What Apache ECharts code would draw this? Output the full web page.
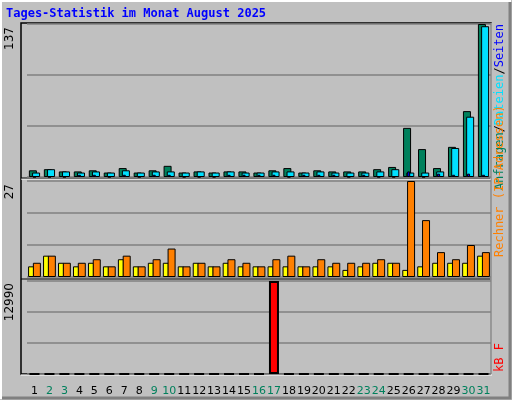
<!DOCTYPE html>
<html><head><meta charset="utf-8">
<script src="https://cdn.jsdelivr.net/npm/echarts@6/dist/echarts.min.js"></script>
<style>html,body{margin:0;padding:0;background:#c0c0c0}#c{width:512px;height:400px}</style>
</head><body><div id="c"></div>
<script>
var days = ['1','2','3','4','5','6','7','8','9','10','11','12','13','14','15','16','17','18','19','20','21','22','23','24','25','26','27','28','29','30','31'];
var weekend = ['2','3','9','10','16','17','23','24','30','31'];
var hits  = [6,7,5,5,6,4,8,4,6,10,4,5,4,5,5,4,6,8,4,6,5,5,5,7,9,44,25,8,27,59,137];
var files = [4,7,5,4,5,4,6,4,5,5,4,5,4,5,4,4,5,5,4,5,4,4,4,5,7,4,4,5,26,54,135];
var pages = [0,0,0,2,2,0,2,0,2,2,0,0,0,2,2,2,2,0,2,2,2,0,2,0,0,5,0,3,2,3,2];
var visits = [3,6,4,3,4,3,5,3,4,4,3,4,3,4,3,3,3,3,3,3,3,2,3,4,4,2,3,4,4,4,6];
var sites  = [4,6,4,4,5,3,6,3,5,8,3,4,3,5,4,3,5,6,3,5,4,4,4,5,4,27,16,7,5,9,7];
var kbytes = [0,0,0,0,0,0,0,0,0,0,0,0,0,0,0,0,12990,0,0,0,0,0,0,0,0,0,0,0,0,0,0];
var maxTop = 137, maxMid = 27, maxBot = 12990;

var chart = echarts.init(document.getElementById('c'));
var L = 27, R = 21;
var grids = [
  {left:L, right:R, top:24, height:153},
  {left:L, right:R, top:181, height:96},
  {left:L, right:R, top:281, height:93}
];
function xa(i, show){
  return {type:'category', gridIndex:i, data:days, axisLine:{show:false}, axisTick:{show:false},
    axisLabel:{show:show, interval:0, fontFamily:'DejaVu Sans', fontSize:11, margin:12,
      formatter:function(v){return weekend.indexOf(v)>=0 ? '{w|'+v+'}' : '{n|'+v+'}';},
      rich:{w:{color:'#00805c',fontSize:11,fontFamily:'DejaVu Sans'},n:{color:'#000',fontSize:11,fontFamily:'DejaVu Sans'}}}};
}
function ya(i, max){
  return {type:'value', gridIndex:i, min:0, max:max, interval:max/3,
    axisLine:{show:false}, axisTick:{show:false}, axisLabel:{show:false},
    splitLine:{lineStyle:{color:'#808080', width:1.5}}};
}
function bar(name, data, xi, yi, color, w, gap){
  return {name:name, type:'bar', xAxisIndex:xi, yAxisIndex:yi, data:data, barWidth:w, barGap:gap,
    itemStyle:{color:color, borderColor:'#000', borderWidth:1}, animation:false};
}
var ft = 'DejaVu Sans Mono';
var xs = [xa(0,false), xa(1,false), xa(2,true)];
var extraX = xa(0,false); xs.push(extraX);
var ys = [ya(0,maxTop), ya(1,maxMid), ya(2,maxBot)];
var extraY = ya(0,maxTop); extraY.splitLine = {show:false}; ys.push(extraY);
chart.setOption({
  backgroundColor:'#c0c0c0',
  animation:false,
  grid:grids,
  xAxis:xs,
  yAxis:ys,
  series:[
    bar('Anfragen', hits, 0, 0, '#00805c', 8, '-60%'),
    bar('Dateien', files, 0, 0, '#00e0ff', 8, '-60%'),
    bar('Seiten', pages, 3, 3, '#0000ff', 3, '0%'),
    bar('Besuche', visits, 1, 1, '#ffff00', 6, '-20%'),
    bar('Rechner', sites, 1, 1, '#ff8000', 8, '-20%'),
    {name:'kB F', type:'bar', xAxisIndex:2, yAxisIndex:2, data:kbytes, barWidth:10,
     itemStyle:{color:'#ff0000', borderColor:'#000', borderWidth:2}, animation:false}
  ],
  graphic:[
    {type:'rect', shape:{x:1,y:1,width:509,height:397}, style:{fill:'none', stroke:'#ffffff', lineWidth:2}},
    {type:'polyline', shape:{points:[[510,2],[510,398],[2,398]]}, style:{stroke:'#808080', lineWidth:3}},
    {type:'rect', shape:{x:21,y:23,width:470,height:351}, style:{fill:'none', stroke:'#000', lineWidth:1.5}},
    {type:'line', shape:{x1:21,y1:179,x2:491,y2:179}, style:{stroke:'#fff', lineWidth:1}},
    {type:'line', shape:{x1:21,y1:178,x2:491,y2:178}, style:{stroke:'#000', lineWidth:1}},
    {type:'line', shape:{x1:21,y1:279,x2:491,y2:279}, style:{stroke:'#000', lineWidth:1}},
    {type:'line', shape:{x1:491,y1:23,x2:491,y2:375}, style:{stroke:'#fff', lineWidth:1}},
    {type:'line', shape:{x1:21,y1:375,x2:492,y2:375}, style:{stroke:'#fff', lineWidth:1}},
    {type:'text', left:6, top:8, style:{text:'Tages-Statistik im Monat August 2025', fill:'#0000ff', font:'bold 12px '+ft}},
    {type:'text', x:10, y:27, rotation:Math.PI/2, style:{text:String(maxTop), fill:'#000', font:'12px DejaVu Sans', align:'right', verticalAlign:'middle'}},
    {type:'text', x:10, y:184, rotation:Math.PI/2, style:{text:String(maxMid), fill:'#000', font:'12px DejaVu Sans', align:'right', verticalAlign:'middle'}},
    {type:'text', x:10, y:283, rotation:Math.PI/2, style:{text:String(maxBot), fill:'#000', font:'12px DejaVu Sans', align:'right', verticalAlign:'middle'}},
    {type:'text', x:500, y:24, rotation:Math.PI/2, style:{
      text:'{a|Anfragen}{s|/}{d|Dateien}{s|/}{p|Seiten}', verticalAlign:'middle', align:'right', font:'12px '+ft,
      rich:{a:{fill:'#00805c',font:'12px '+ft},d:{fill:'#00e0ff',font:'12px '+ft},p:{fill:'#0000ff',font:'12px '+ft},s:{fill:'#000',font:'12px '+ft}}}},
    {type:'text', x:500, y:257, rotation:Math.PI/2, style:{text:'Rechner (IP-Adressen)', fill:'#ff8000', font:'12px '+ft, verticalAlign:'middle', align:'left'}},
    {type:'text', x:500, y:372, rotation:Math.PI/2, style:{text:'kB F', fill:'#ff0000', font:'12px '+ft, verticalAlign:'middle', align:'left'}}
  ]
});
</script></body></html>
